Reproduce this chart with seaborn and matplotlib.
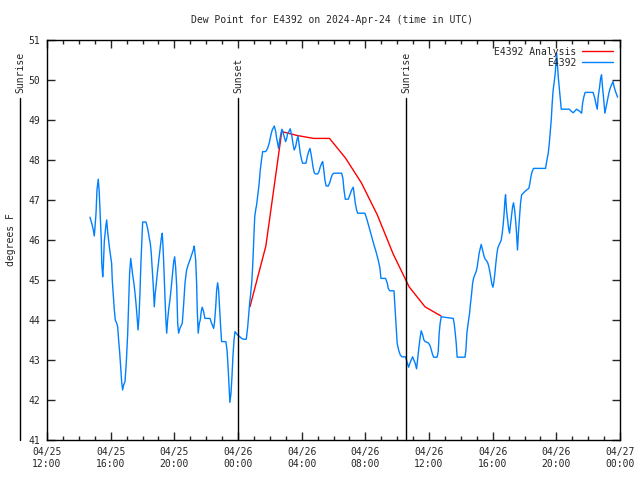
import numpy as np
import pandas as pd
import matplotlib
matplotlib.use("Agg")
import matplotlib.pyplot as plt
import matplotlib.dates as mdates
import seaborn as sns

# hours after 2024-04-25 12:00 UTC, dew point in degrees F
obs_hours = [2.70, 2.81, 2.91, 2.97, 3.01, 3.08, 3.14, 3.22, 3.28, 3.35, 3.41, 3.44, 3.50, 3.54, 3.60,
             3.69, 3.75, 3.81, 3.89, 3.97, 4.06, 4.10, 4.16, 4.23, 4.29, 4.38, 4.44, 4.50, 4.57, 4.63,
             4.69, 4.75, 4.82, 4.90, 4.98, 5.07, 5.13, 5.19, 5.26, 5.32, 5.38, 5.46, 5.53, 5.59, 5.65,
             5.72, 5.78, 5.84, 5.90, 5.97, 6.01, 6.22, 6.30, 6.36, 6.43, 6.49, 6.55, 6.61, 6.68, 6.74,
             6.80, 6.87, 6.93, 6.99, 7.05, 7.12, 7.18, 7.24, 7.29, 7.35, 7.41, 7.47, 7.52, 7.58, 7.64,
             7.71, 7.77, 7.83, 7.90, 7.96, 8.02, 8.08, 8.15, 8.21, 8.27, 8.35, 8.50, 8.59, 8.67, 8.77,
             8.87, 8.98, 9.09, 9.19, 9.25, 9.34, 9.40, 9.44, 9.50, 9.57, 9.63, 9.69, 9.75, 9.84, 9.92,
             10.24, 10.34, 10.47, 10.53, 10.60, 10.66, 10.72, 10.78, 10.85, 10.91, 10.97, 11.24, 11.31, 11.37, 11.43,
             11.49, 11.56, 11.62, 11.68, 11.75, 11.81, 11.92, 12.02, 12.12, 12.23, 12.33, 12.52, 12.61, 12.67, 12.73,
             12.79, 12.86, 12.92, 12.98, 13.05, 13.11, 13.17, 13.23, 13.32, 13.40, 13.49, 13.55, 13.74, 13.86, 13.96,
             14.07, 14.15, 14.28, 14.37, 14.43, 14.49, 14.55, 14.62, 14.70, 14.76, 14.82, 14.90, 14.99, 15.06, 15.12,
             15.20, 15.28, 15.37, 15.45, 15.53, 15.62, 15.70, 15.77, 15.83, 15.91, 16.00, 16.06, 16.27, 16.35, 16.44,
             16.52, 16.58, 16.65, 16.71, 16.79, 16.88, 17.00, 17.09, 17.17, 17.26, 17.32, 17.38, 17.46, 17.54, 17.67,
             17.76, 17.84, 17.92, 18.01, 18.51, 18.59, 18.66, 18.74, 18.93, 19.03, 19.14, 19.24, 19.30, 19.37, 19.45,
             19.52, 19.97, 20.08, 20.23, 20.40, 20.54, 20.67, 20.81, 20.92, 20.98, 21.27, 21.38, 21.44, 21.54, 21.80,
             21.86, 21.92, 22.00, 22.09, 22.19, 22.30, 22.53, 22.61, 22.72, 22.80, 22.88, 22.97, 23.05, 23.13, 23.22,
             23.28, 23.37, 23.45, 23.51, 23.60, 23.68, 23.76, 23.95, 24.04, 24.12, 24.20, 24.29, 24.51, 24.58, 24.64,
             24.70, 24.77, 25.52, 25.58, 25.65, 25.71, 25.77, 26.26, 26.32, 26.38, 26.46, 26.55, 26.61, 26.68, 26.74,
             26.80, 26.88, 26.96, 27.03, 27.09, 27.15, 27.22, 27.28, 27.34, 27.40, 27.47, 27.53, 27.62, 27.70, 27.76,
             27.83, 27.89, 27.95, 28.02, 28.08, 28.14, 28.20, 28.27, 28.33, 28.41, 28.47, 28.54, 28.60, 28.66, 28.72,
             28.77, 28.81, 28.87, 28.94, 29.00, 29.06, 29.13, 29.19, 29.25, 29.31, 29.38, 29.44, 29.50, 29.56, 29.63,
             29.69, 29.75, 29.82, 29.92, 30.02, 30.13, 30.27, 30.34, 30.40, 30.48, 30.57, 31.32, 31.41, 31.49, 31.55,
             31.61, 31.68, 31.74, 31.80, 31.87, 31.93, 32.02, 32.12, 32.24, 32.31, 32.81, 32.91, 33.06, 33.27, 33.43,
             33.59, 33.65, 33.73, 33.81, 34.31, 34.42, 34.50, 34.57, 34.63, 34.72, 34.78, 34.84, 34.90, 34.97, 35.05,
             35.13, 35.22, 35.30, 35.38, 35.47, 35.56, 35.63, 35.72, 35.85]
obs_dewpt = [46.57, 46.42, 46.25, 46.10, 46.29, 46.67, 47.25, 47.52, 47.21, 46.58, 46.00, 45.42, 45.08, 45.33, 45.96,
             46.33, 46.50, 46.21, 45.92, 45.67, 45.42, 45.00, 44.67, 44.25, 44.00, 43.92, 43.83, 43.50, 43.17, 42.83,
             42.46, 42.25, 42.38, 42.46, 42.92, 43.67, 44.42, 45.17, 45.54, 45.33, 45.13, 44.92, 44.67, 44.42, 44.13,
             43.75, 44.08, 44.67, 45.42, 46.08, 46.45, 46.45, 46.33, 46.21, 46.04, 45.92, 45.67, 45.29, 44.83, 44.33,
             44.67, 44.92, 45.17, 45.38, 45.58, 45.83, 46.04, 46.17, 45.83, 45.25, 44.58, 44.00, 43.67, 44.00, 44.25,
             44.46, 44.67, 44.92, 45.21, 45.46, 45.58, 45.33, 44.83, 43.92, 43.67, 43.79, 43.92, 44.42, 44.92, 45.25,
             45.38, 45.50, 45.63, 45.75, 45.85, 45.50, 44.92, 44.25, 43.67, 43.92, 44.00, 44.21, 44.32, 44.21, 44.04,
             44.04, 43.92, 43.79, 43.96, 44.33, 44.75, 44.93, 44.75, 44.25, 43.83, 43.46, 43.46, 43.25, 42.88, 42.42,
             41.94, 42.17, 42.58, 43.08, 43.50, 43.71, 43.65, 43.61, 43.58, 43.54, 43.52, 43.52, 43.83, 44.13, 44.42,
             44.63, 44.92, 45.33, 45.92, 46.58, 46.75, 46.88, 47.08, 47.38, 47.75, 48.04, 48.21, 48.21, 48.29, 48.42,
             48.63, 48.75, 48.85, 48.71, 48.54, 48.42, 48.29, 48.50, 48.67, 48.77, 48.71, 48.58, 48.46, 48.54, 48.67,
             48.71, 48.78, 48.63, 48.42, 48.25, 48.33, 48.50, 48.60, 48.42, 48.17, 48.00, 47.92, 47.92, 48.08, 48.21,
             48.29, 48.17, 48.00, 47.83, 47.68, 47.65, 47.65, 47.71, 47.83, 47.92, 47.96, 47.79, 47.50, 47.35, 47.35,
             47.43, 47.54, 47.63, 47.67, 47.67, 47.54, 47.25, 47.02, 47.02, 47.13, 47.25, 47.32, 47.13, 46.92, 46.75,
             46.67, 46.67, 46.54, 46.33, 46.08, 45.88, 45.71, 45.50, 45.29, 45.04, 45.04, 44.92, 44.79, 44.73, 44.73,
             44.33, 43.92, 43.42, 43.25, 43.13, 43.08, 43.08, 42.96, 42.82, 42.92, 43.00, 43.08, 43.00, 42.92, 42.78,
             43.00, 43.33, 43.58, 43.73, 43.63, 43.50, 43.46, 43.43, 43.38, 43.29, 43.17, 43.07, 43.07, 43.21, 43.67,
             43.92, 44.08, 44.04, 43.92, 43.67, 43.42, 43.07, 43.07, 43.25, 43.67, 43.92, 44.17, 44.42, 44.67, 44.92,
             45.04, 45.13, 45.21, 45.33, 45.50, 45.67, 45.79, 45.89, 45.79, 45.68, 45.58, 45.52, 45.48, 45.42, 45.33,
             45.19, 45.04, 44.90, 44.82, 44.96, 45.17, 45.42, 45.67, 45.81, 45.88, 45.93, 46.00, 46.17, 46.38, 46.67,
             47.00, 47.13, 46.75, 46.50, 46.29, 46.17, 46.42, 46.63, 46.83, 46.93, 46.75, 46.50, 46.17, 45.75, 46.25,
             46.58, 46.92, 47.13, 47.17, 47.21, 47.25, 47.29, 47.42, 47.58, 47.71, 47.79, 47.79, 48.00, 48.17, 48.38,
             48.67, 49.00, 49.42, 49.75, 49.96, 50.17, 50.67, 50.08, 49.58, 49.27, 49.27, 49.23, 49.18, 49.27, 49.23,
             49.17, 49.42, 49.58, 49.69, 49.69, 49.54, 49.38, 49.27, 49.58, 49.83, 50.04, 50.13, 49.83, 49.54, 49.17,
             49.33, 49.50, 49.67, 49.79, 49.88, 49.96, 49.83, 49.71, 49.57]

ana_hours = [12.75, 13.75, 14.75, 15.75, 16.75, 17.75, 18.75, 19.75, 20.75, 21.75, 22.75, 23.75, 24.75]
ana_dewpt = [44.33, 45.85, 48.71, 48.61, 48.54, 48.54, 48.05, 47.43, 46.63, 45.65, 44.83, 44.33, 44.10]

sun_hours = [-1.70, 12.03, 22.55]
sun_labels = ["Sunrise", "Sunset", "Sunrise"]

start = pd.Timestamp("2024-04-25 12:00")
obs = pd.DataFrame({"time": start + pd.to_timedelta(obs_hours, unit="h"), "dewpt": obs_dewpt})
ana = pd.DataFrame({"time": start + pd.to_timedelta(ana_hours, unit="h"), "dewpt": ana_dewpt})

sns.set_style("ticks")
plt.rcParams["font.family"] = ["DejaVu Sans Mono"]
plt.rcParams["font.size"] = 7

fig = plt.figure(figsize=(6.4, 4.8), dpi=100)
ax = fig.add_axes([47 / 640, 40 / 480, 573 / 640, 400 / 480])

sns.lineplot(data=ana, x="time", y="dewpt", color="#ff0000", lw=1, estimator=None, sort=False,
             ax=ax, label="E4392 Analysis")
sns.lineplot(data=obs, x="time", y="dewpt", color="#0080ff", lw=1, estimator=None, sort=False,
             ax=ax, label="E4392")

for h, lab in zip(sun_hours, sun_labels):
    t = start + pd.Timedelta(hours=h)
    ax.plot([t, t], [41, 49.55], color="black", lw=1, clip_on=False)
    ax.text(t, 49.68, lab, rotation=90, ha="center", va="bottom", fontsize=7, clip_on=False)

ax.set_xlim(start, start + pd.Timedelta(hours=36))
ax.set_ylim(41, 51)
ax.set_yticks(range(41, 52))
ax.xaxis.set_major_locator(mdates.HourLocator(byhour=range(0, 24, 4)))
ax.xaxis.set_minor_locator(mdates.HourLocator())
ax.xaxis.set_major_formatter(mdates.DateFormatter("%m/%d\n%H:%M"))
ax.tick_params(which="both", direction="in", top=True, right=True, width=1, labelsize=7, pad=5)
ax.tick_params(which="major", length=6)
ax.tick_params(which="minor", length=3)
for s in ax.spines.values():
    s.set_linewidth(1)
    s.set_color("black")

ax.set_xlabel("")
ax.set_ylabel("degrees F", fontsize=7, labelpad=9)
fig.text(332 / 640, 1 - 20 / 480, "Dew Point for E4392 on 2024-Apr-24 (time in UTC)",
         ha="center", va="center", fontsize=7)

ax.legend(loc="upper right", frameon=False, markerfirst=False, handlelength=3.2,
          fontsize=7, borderaxespad=0.3, labelspacing=0.1, handletextpad=0.6)

fig.savefig("out.png", dpi=100)
